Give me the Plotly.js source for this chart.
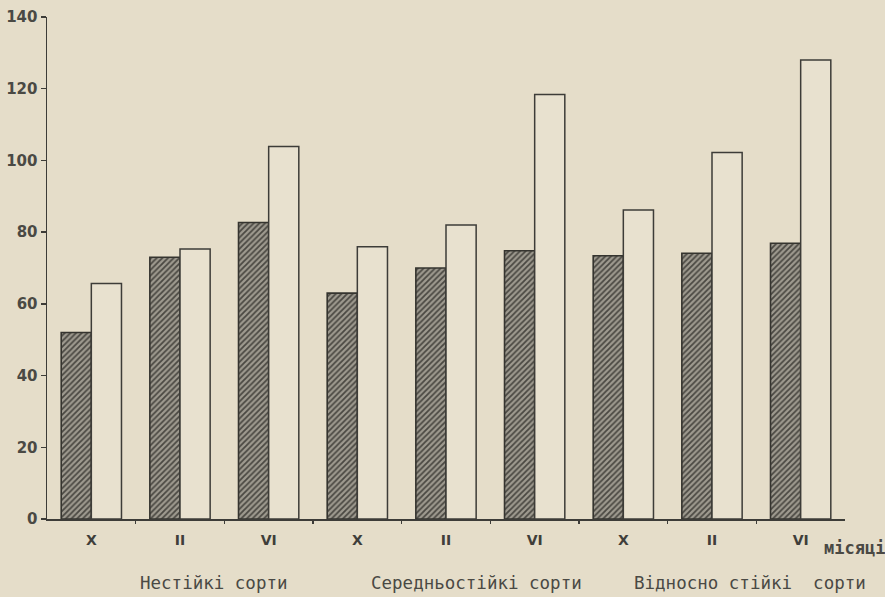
<!DOCTYPE html>
<html>
<head>
<meta charset="utf-8">
<script src="https://cdn.plot.ly/plotly-3.0.1.min.js"></script>
<style>html,body{margin:0;padding:0;background:#e5ddc9;}#chart{width:885px;height:597px;}</style>
</head>
<body>
<div id="chart"></div>
<script>
// Data
const months = ["X", "II", "VI", "X", "II", "VI", "X", "II", "VI"];
const groupLabels = ["Нестійкі сорти", "Середньостійкі сорти", "Відносно стійкі  сорти"];
const seriesDark = [52, 73, 82.7, 63, 70, 74.8, 73.4, 74.1, 76.9];
const seriesLight = [65.7, 75.3, 103.9, 75.9, 82, 118.4, 86.2, 102.2, 128];
const yTicks = [0, 20, 40, 60, 80, 100, 120, 140];
const axisTitle = "місяці";

const xIdx = months.map((m, i) => i);
const ink = "#3d3c38";
const paper = "#e5ddc9";

const traces = [
  {
    type: "bar", x: xIdx, y: seriesDark, name: "dark",
    marker: {
      color: "#85817a",
      line: {color: "#35342f", width: 1.6},
      pattern: {shape: "/", fgcolor: "#4a4842", bgcolor: "#9e9a8f", size: 4, solidity: 0.45}
    },
    hoverinfo: "skip"
  },
  {
    type: "bar", x: xIdx, y: seriesLight, name: "light",
    marker: {color: "#e8e1cf", line: {color: ink, width: 1.5}},
    hoverinfo: "skip"
  }
];

const annFont = {family: "DejaVu Sans Mono", size: 17.5, color: "#4a4944"};
const groupX = [1.38, 4.34, 7.43];
const annotations = groupLabels.map((t, i) => ({
  text: t, xref: "x", yref: "paper", x: groupX[i], y: 0, yshift: -64,
  xanchor: "center", yanchor: "middle", showarrow: false, font: annFont
}));
annotations.push({
  text: axisTitle, xref: "paper", yref: "paper", x: 1, y: 0, xshift: -23, yshift: -29,
  xanchor: "left", yanchor: "middle", showarrow: false,
  font: {family: "DejaVu Sans Mono", size: 17, color: "#4a4944", weight: "bold"}
});

const layout = {
  width: 885, height: 597,
  margin: {l: 47, r: 40, t: 17, b: 78, pad: 0},
  paper_bgcolor: paper, plot_bgcolor: paper,
  barmode: "group", bargap: 0.32, bargroupgap: 0,
  showlegend: false,
  xaxis: {
    type: "linear", range: [-0.5, 8.5],
    tickmode: "array", tickvals: xIdx, ticktext: months,
    showgrid: false, zeroline: false,
    showline: true, linecolor: ink, linewidth: 1.5,
    ticks: "", ticklabelstandoff: 8,
    minor: {tickmode: "array", tickvals: [0.5,1.5,2.5,3.5,4.5,5.5,6.5,7.5], ticks: "outside", ticklen: 3, tickcolor: ink, tickwidth: 1.5, showgrid: false},
    tickfont: {family: "DejaVu Sans", size: 14, color: "#3f3e3a", weight: "bold"},
    fixedrange: true
  },
  yaxis: {
    range: [0, 140],
    tickmode: "array", tickvals: yTicks, ticktext: yTicks.map(String),
    showgrid: false, zeroline: false,
    showline: true, linecolor: ink, linewidth: 1.5,
    ticks: "outside", ticklen: 5, tickcolor: ink, tickwidth: 1.5,
    tickfont: {family: "DejaVu Sans", size: 15, color: "#4a4944", weight: "bold"},
    fixedrange: true
  },
  annotations: annotations
};

Plotly.newPlot("chart", traces, layout, {staticPlot: true, displayModeBar: false});
</script>
</body>
</html>
